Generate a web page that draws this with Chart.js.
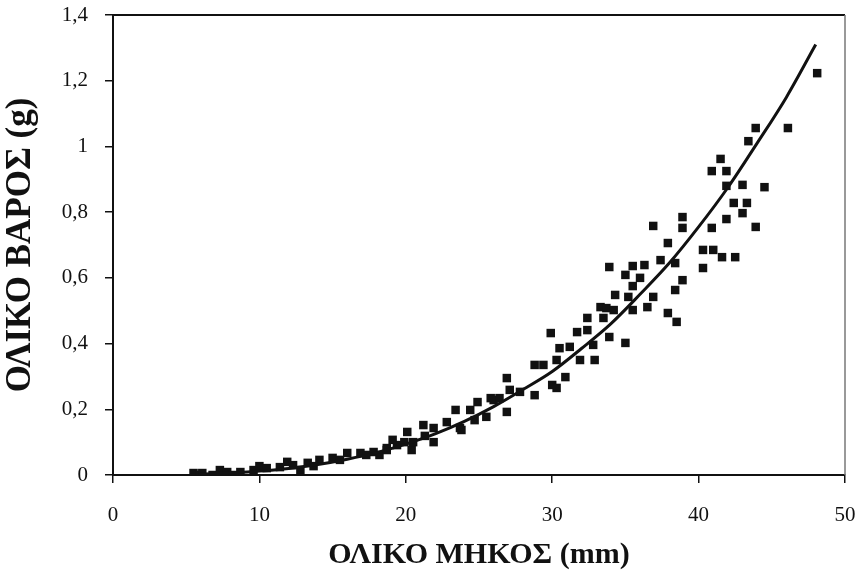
<!DOCTYPE html>
<html lang="el">
  <head>
    <meta charset="UTF-8" />
    <title>Ολικό βάρος - ολικό μήκος</title>
    <script src="https://cdn.jsdelivr.net/npm/chart.js"></script>
    <style>
      * {
        margin: 0;
        padding: 0;
        box-sizing: border-box;
      }

      body {
        background-color: #fff;
      }

      .chart-box {
        width: 861px;
        height: 575px;
      }
    </style>
  </head>
  <body>
    <div class="chart-box">
      <canvas id="lwChart"></canvas>
    </div>

    <script>
      // Μετρήσεις: ολικό μήκος (mm) και ολικό βάρος (g) κάθε ατόμου
      var lengthMm = [
        5.5, 5.9, 6.1, 6.8, 7.3, 7.8, 8.2, 8.7, 9.6, 10.0, 10.5, 11.4, 11.9, 12.3,
        12.8, 13.3, 13.7, 14.1, 15.0, 15.5, 16.0, 16.9, 17.3, 17.8, 18.2, 18.7,
        19.4, 18.7, 19.1, 19.9, 20.1, 20.4, 20.5, 21.2, 21.3, 21.9, 21.9, 22.8,
        23.4, 23.7, 23.8, 24.4, 24.7, 24.9, 25.5, 25.8, 26.0, 26.4, 26.9, 26.9,
        27.1, 27.8, 28.8, 28.8, 29.4, 29.9, 30.0, 30.3, 30.3, 30.5, 30.9, 31.2,
        31.7, 31.9, 32.4, 32.4, 32.8, 32.9, 33.3, 33.5, 33.7, 33.9, 33.9, 34.2,
        34.3, 35.0, 35.0, 35.2, 35.5, 35.5, 35.5, 36.0, 36.3, 36.5, 36.9, 36.9,
        37.4, 37.9, 37.9, 38.4, 38.4, 38.5, 38.9, 38.9, 38.9, 40.3, 40.3, 40.9,
        40.9, 41.0, 41.5, 41.6, 41.9, 41.9, 41.9, 42.4, 42.5, 43.0, 43.0, 43.3,
        43.4, 43.9, 43.9, 44.5, 46.1, 48.1
      ];
      var weightG = [
        0.006, 0.0, 0.006, 0.0, 0.015, 0.009, 0.0, 0.009, 0.015, 0.027, 0.021,
        0.024, 0.04, 0.03, 0.015, 0.037, 0.027, 0.046, 0.052, 0.046, 0.067,
        0.067, 0.061, 0.07, 0.061, 0.082, 0.091, 0.076, 0.107, 0.1, 0.131,
        0.076, 0.1, 0.152, 0.119, 0.143, 0.1, 0.161, 0.198, 0.143, 0.137, 0.198,
        0.167, 0.222, 0.177, 0.234, 0.228, 0.234, 0.192, 0.295, 0.259, 0.253,
        0.243, 0.335, 0.335, 0.432, 0.274, 0.265, 0.35, 0.386, 0.298, 0.39,
        0.435, 0.35, 0.478, 0.441, 0.396, 0.35, 0.511, 0.478, 0.508, 0.633,
        0.42, 0.502, 0.548, 0.402, 0.609, 0.542, 0.636, 0.502, 0.575, 0.6,
        0.639, 0.511, 0.542, 0.758, 0.654, 0.706, 0.493, 0.645, 0.563, 0.466,
        0.785, 0.752, 0.593, 0.685, 0.63, 0.752, 0.925, 0.685, 0.962, 0.663,
        0.779, 0.925, 0.88, 0.828, 0.663, 0.883, 0.797, 0.828, 1.016, 0.755,
        1.056, 0.876, 1.056, 1.223
      ];

      // Καμπύλη προσαρμογής (σχέση μήκους - βάρους)
      var fitLength = [6, 8, 10, 12, 14, 16, 18, 20, 22, 24, 26, 28, 30, 32, 34, 36, 38, 40, 42, 44, 46, 48];
      var fitWeight = [
        0.003, 0.006, 0.012, 0.02, 0.032, 0.048, 0.068, 0.094, 0.125, 0.163,
        0.208, 0.26, 0.315, 0.385, 0.46, 0.55, 0.645, 0.755, 0.875, 1.01, 1.15,
        1.31
      ];

      // Άξονες
      var xTicks = [0, 10, 20, 30, 40, 50];
      var yTicks = [0, 0.2, 0.4, 0.6, 0.8, 1, 1.2, 1.4];
      var yTickLabels = ["0", "0,2", "0,4", "0,6", "0,8", "1", "1,2", "1,4"];

      var ink = "#111";
      var serif = "'Liberation Serif', 'Times New Roman', serif";

      var points = lengthMm.map(function (x, i) {
        return { x: x, y: weightG[i] };
      });
      var curve = fitLength.map(function (x, i) {
        return { x: x, y: fitWeight[i] };
      });

      // πάνω και δεξιά πλαίσιο της περιοχής σχεδίασης
      var framePlugin = {
        id: "frame",
        afterDraw: function (chart) {
          var ctx = chart.ctx;
          var a = chart.chartArea;
          ctx.save();
          ctx.strokeStyle = ink;
          ctx.lineWidth = 2;
          ctx.beginPath();
          ctx.moveTo(a.left, a.top);
          ctx.lineTo(a.right, a.top);
          ctx.stroke();
          ctx.strokeStyle = "#777";
          ctx.lineWidth = 1.5;
          ctx.beginPath();
          ctx.moveTo(a.right, a.top);
          ctx.lineTo(a.right, a.bottom);
          ctx.stroke();
          ctx.restore();
        },
      };

      new Chart(document.getElementById("lwChart"), {
        type: "scatter",
        data: {
          datasets: [
            {
              type: "line",
              data: curve,
              borderColor: ink,
              borderWidth: 3,
              pointRadius: 0,
              fill: false,
              cubicInterpolationMode: "monotone",
            },
            {
              data: points,
              pointStyle: "rect",
              pointRadius: 6,
              backgroundColor: ink,
              borderWidth: 0,
            },
          ],
        },
        options: {
          responsive: true,
          maintainAspectRatio: false,
          animation: false,
          layout: {
            padding: { top: 15, right: 16, left: 0, bottom: 0 },
          },
          plugins: {
            legend: { display: false },
            tooltip: { enabled: false },
          },
          scales: {
            x: {
              type: "linear",
              min: 0,
              max: 50,
              afterBuildTicks: function (s) {
                s.ticks = xTicks.map(function (v) {
                  return { value: v };
                });
              },
              afterFit: function (s) {
                s.height = 100;
                s.paddingLeft = 0;
                s.paddingRight = 0;
              },
              ticks: {
                color: ink,
                padding: 20,
                font: { family: serif, size: 21 },
              },
              grid: {
                drawOnChartArea: false,
                drawTicks: true,
                tickLength: 8,
                color: ink,
                lineWidth: 1.5,
              },
              border: { color: ink, width: 2 },
              title: {
                display: true,
                text: "ΟΛΙΚΟ ΜΗΚΟΣ (mm)",
                color: ink,
                font: { family: serif, size: 30, weight: "bold" },
                padding: { top: 0, bottom: 2 },
              },
            },
            y: {
              type: "linear",
              min: 0,
              max: 1.4,
              afterBuildTicks: function (s) {
                s.ticks = yTicks.map(function (v) {
                  return { value: v };
                });
              },
              afterFit: function (s) {
                s.width = 113;
                s.paddingTop = 0;
                s.paddingBottom = 0;
              },
              ticks: {
                color: ink,
                padding: 17,
                font: { family: serif, size: 21 },
                callback: function (v, i) {
                  return yTickLabels[i];
                },
              },
              grid: {
                drawOnChartArea: false,
                drawTicks: true,
                tickLength: 8,
                color: ink,
                lineWidth: 1.5,
              },
              border: { color: ink, width: 2 },
              title: {
                display: true,
                text: "ΟΛΙΚΟ ΒΑΡΟΣ (g)",
                color: ink,
                font: { family: serif, size: 35, weight: "bold" },
                padding: { top: 0, bottom: 0 },
              },
            },
          },
        },
        plugins: [framePlugin],
      });
    </script>
  </body>
</html>
